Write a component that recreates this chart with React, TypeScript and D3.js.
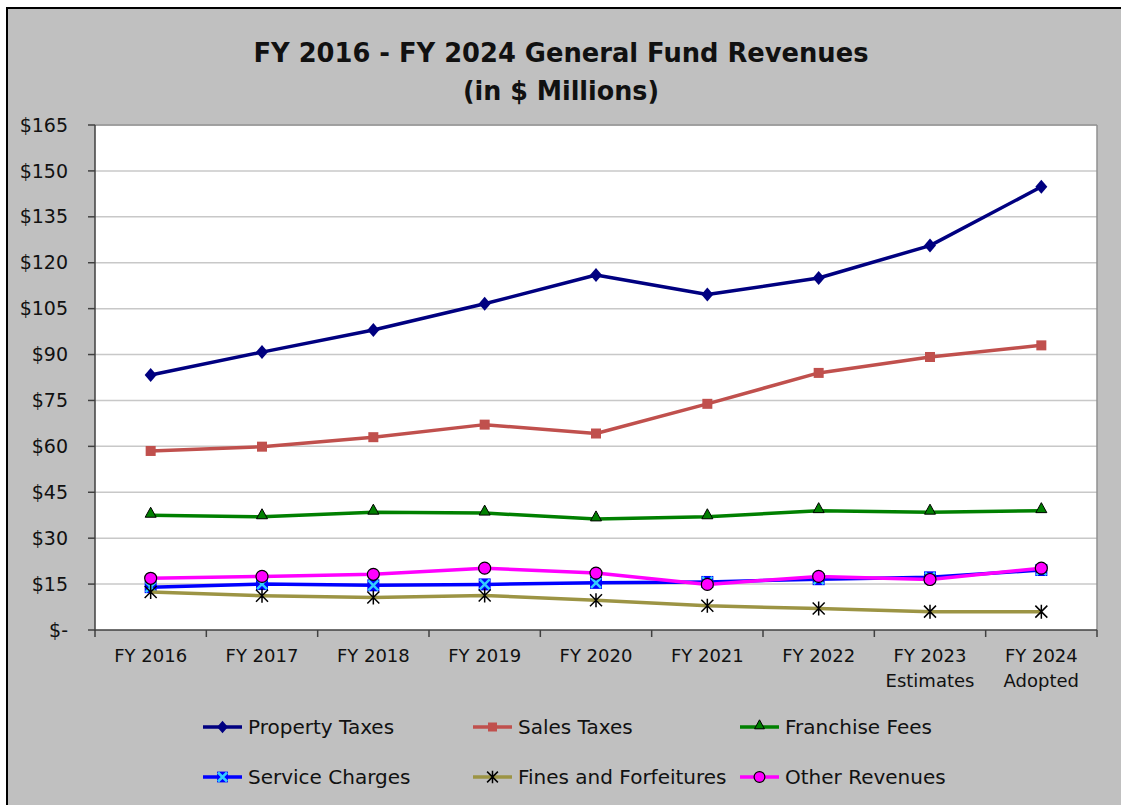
import React from "react";
import * as d3 from "d3";

const categories = ["FY 2016", "FY 2017", "FY 2018", "FY 2019", "FY 2020", "FY 2021", "FY 2022", "FY 2023", "FY 2024"];
const categorySubLabels = ["", "", "", "", "", "", "", "Estimates", "Adopted"];
const yTicks = [0, 15, 30, 45, 60, 75, 90, 105, 120, 135, 150, 165];

const propertyTaxes = [83.3, 90.8, 98.0, 106.6, 116.0, 109.6, 115.0, 125.6, 144.8];
const salesTaxes = [58.5, 59.9, 63.0, 67.1, 64.2, 73.9, 84.0, 89.2, 93.0];
const franchiseFees = [37.5, 37.0, 38.5, 38.2, 36.3, 37.0, 39.0, 38.5, 39.0];
const serviceCharges = [14.0, 15.0, 14.6, 14.9, 15.4, 15.7, 16.6, 17.2, 19.6];
const finesForfeitures = [12.4, 11.2, 10.6, 11.3, 9.7, 7.9, 7.0, 6.0, 6.0];
const otherRevenues = [16.9, 17.5, 18.2, 20.2, 18.6, 14.9, 17.5, 16.5, 20.2];

type Marker = "diamond" | "square" | "triangle" | "xsquare" | "asterisk" | "circle";
const seriesNames = ["Property Taxes", "Sales Taxes", "Franchise Fees", "Service Charges", "Fines and Forfeitures", "Other Revenues"];
const seriesValues = [propertyTaxes, salesTaxes, franchiseFees, serviceCharges, finesForfeitures, otherRevenues];
const seriesColors = ["#000080", "#C0504D", "#008000", "#0000FF", "#9C9444", "#FF00FF"];
const seriesMarkers: Marker[] = ["diamond", "square", "triangle", "xsquare", "asterisk", "circle"];

const FONT = "'DejaVu Sans', sans-serif";

function MarkerShape({ type, x, y, color, scale = 1 }: { type: Marker; x: number; y: number; color: string; scale?: number }) {
  const s = scale;
  switch (type) {
    case "diamond":
      return <path d={`M${x},${y - 7 * s}L${x + 6 * s},${y}L${x},${y + 7 * s}L${x - 6 * s},${y}Z`} fill={color} />;
    case "square":
      return <rect x={x - 5 * s} y={y - 5 * s} width={10 * s} height={10 * s} fill={color} />;
    case "triangle":
      return <path d={`M${x},${y - 8 * s}L${x + 5.5 * s},${y + 2 * s}L${x - 5.5 * s},${y + 2 * s}Z`} fill={color} stroke="#000" strokeWidth={1} />;
    case "xsquare":
      return (
        <g>
          <rect x={x - 6 * s} y={y - 6 * s} width={12 * s} height={12 * s} fill="#0000FF" />
          <path d={`M${x - 5 * s},${y - 5 * s}L${x + 5 * s},${y + 5 * s}M${x + 5 * s},${y - 5 * s}L${x - 5 * s},${y + 5 * s}`} stroke="#33CCFF" strokeWidth={2.5} />
        </g>
      );
    case "asterisk":
      return (
        <path
          d={`M${x - 6 * s},${y - 6 * s}L${x + 6 * s},${y + 6 * s}M${x + 6 * s},${y - 6 * s}L${x - 6 * s},${y + 6 * s}M${x},${y - 7 * s}L${x},${y + 7 * s}`}
          stroke="#000"
          strokeWidth={1.5}
        />
      );
    case "circle":
      return <circle cx={x} cy={y} r={6 * s} fill={color} stroke="#000" strokeWidth={1.2} />;
  }
}

export default function App() {
  const W = 1121;
  const H = 805;
  const left = 95, right = 1097, top = 125, bottom = 630;

  const x = d3.scaleBand<string>().domain(categories).range([left, right]).padding(0);
  const y = d3.scaleLinear().domain([0, 165]).range([bottom, top]);
  const cx = (c: string) => (x(c) as number) + x.bandwidth() / 2;

  const line = d3
    .line<number>()
    .x((_, i) => cx(categories[i]))
    .y((d) => y(d));

  const boundaries = categories.map((c) => x(c) as number).concat([right]);

  const legendCols = [203, 473, 740];
  const legendRows = [727, 777];

  return (
    <svg width={W} height={H} style={{ position: "absolute", left: 0, top: 0 }} fontFamily={FONT}>
      <rect x={0} y={0} width={W} height={H} fill="#fff" />
      <rect x={7} y={8} width={W + 10} height={H + 10} fill="#C0C0C0" stroke="#000" strokeWidth={2} />

      <text x={561} y={62} textAnchor="middle" fontSize={26} fontWeight="bold" fill="#111" textLength={615} lengthAdjust="spacingAndGlyphs">
        FY 2016 - FY 2024 General Fund Revenues
      </text>
      <text x={561} y={100} textAnchor="middle" fontSize={26} fontWeight="bold" fill="#111" textLength={196} lengthAdjust="spacingAndGlyphs">
        (in $ Millions)
      </text>

      <rect x={left} y={top} width={right - left} height={bottom - top} fill="#fff" />
      {yTicks.slice(1).map((t) => (
        <line key={t} x1={left} x2={right} y1={y(t)} y2={y(t)} stroke="#C8C8C8" strokeWidth={1.5} />
      ))}
      <line x1={right} x2={right} y1={top} y2={bottom} stroke="#909090" strokeWidth={1.5} />
      <line x1={left} x2={right} y1={top} y2={top} stroke="#909090" strokeWidth={1.5} />
      <line x1={left} x2={left} y1={top} y2={bottom + 1} stroke="#404040" strokeWidth={1.5} />
      <line x1={left} x2={right} y1={bottom} y2={bottom} stroke="#404040" strokeWidth={1.5} />

      {yTicks.map((t) => (
        <g key={t}>
          <line x1={88} x2={left} y1={y(t)} y2={y(t)} stroke="#404040" strokeWidth={1.5} />
          <text x={68} y={y(t)} dy="0.35em" textAnchor="end" fontSize={19} fill="#111">
            {t === 0 ? "$-" : `$${t}`}
          </text>
        </g>
      ))}

      {boundaries.map((b, i) => (
        <line key={i} x1={b} x2={b} y1={bottom} y2={bottom + 7} stroke="#404040" strokeWidth={1.5} />
      ))}
      {categories.map((c, i) => (
        <g key={c}>
          <text x={cx(c)} y={662} textAnchor="middle" fontSize={18} fill="#111">
            {c}
          </text>
          {categorySubLabels[i] && (
            <text x={cx(c)} y={687} textAnchor="middle" fontSize={18} fill="#111">
              {categorySubLabels[i]}
            </text>
          )}
        </g>
      ))}

      {seriesValues.map((vals, si) => (
        <g key={seriesNames[si]}>
          <path d={line(vals) as string} fill="none" stroke={seriesColors[si]} strokeWidth={3.5} strokeLinejoin="round" />
          {vals.map((v, i) => (
            <MarkerShape key={i} type={seriesMarkers[si]} x={cx(categories[i])} y={y(v)} color={seriesColors[si]} />
          ))}
        </g>
      ))}

      {seriesNames.map((name, si) => {
        const lx = legendCols[si % 3];
        const ly = legendRows[Math.floor(si / 3)];
        return (
          <g key={name}>
            <line x1={lx} x2={lx + 39} y1={ly} y2={ly} stroke={seriesColors[si]} strokeWidth={3.5} />
            <MarkerShape type={seriesMarkers[si]} x={lx + 19.5} y={ly} color={seriesColors[si]} scale={0.9} />
            <text x={lx + 45} y={ly} dy="0.35em" fontSize={20} fill="#111">
              {name}
            </text>
          </g>
        );
      })}
    </svg>
  );
}
